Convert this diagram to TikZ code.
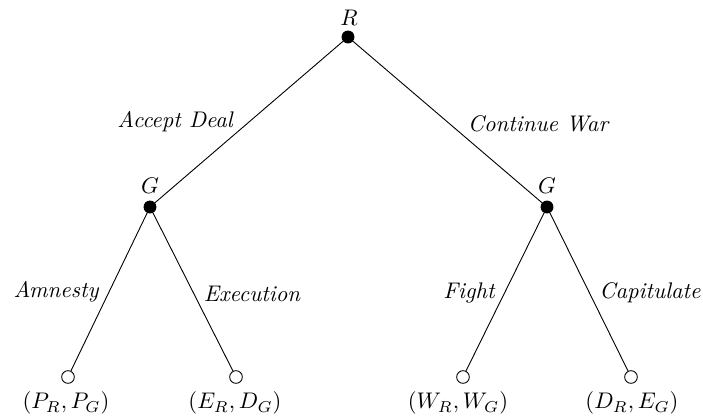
\documentclass[tikz,border=0pt]{standalone}
\begin{document}
\begin{tikzpicture}[x=0.4425pt,y=-0.4425pt,
  dec/.style={circle,fill=black,draw=black,inner sep=0pt,minimum size=5.3pt},
  term/.style={circle,fill=white,draw=black,inner sep=0pt,minimum size=5.6pt},
  lab/.style={font=\itshape},
  edge/.style={draw=black,line width=0.4pt}]
\useasboundingbox (0,0) rectangle (703,419);
\node[dec] (r) at (348,37) {};
\node[dec] (gl) at (150,207) {};
\node[dec] (gr) at (547,207) {};
\node[term] (l1) at (68,377) {};
\node[term] (l2) at (236,377) {};
\node[term] (l3) at (463,377) {};
\node[term] (l4) at (631,377) {};
\draw[edge] (r) -- (gl);
\draw[edge] (r) -- (gr);
\draw[edge] (gl) -- (l1);
\draw[edge] (gl) -- (l2);
\draw[edge] (gr) -- (l3);
\draw[edge] (gr) -- (l4);
\node (tr) at (349,18) {$R$};
\node (tgl) at (150,186) {$G$};
\node (tgr) at (547,186) {$G$};
\node[lab] (e1) at (175,122) {Accept Deal};
\node[lab] (e2) at (538,124) {Continue War};
\node[lab] (e3) at (56,292) {Amnesty};
\node[lab] (e4) at (252,294) {Execution};
\node[lab] (e5) at (469,293) {Fight};
\node[lab] (e6) at (650,293) {Capitulate};
\node (p1) at (66,403) {$(P_R,P_G)$};
\node (p2) at (235,403) {$(E_R,D_G)$};
\node (p3) at (458,403) {$(W_R,W_G)$};
\node (p4) at (632,403) {$(D_R,E_G)$};
\end{tikzpicture}
\end{document}
